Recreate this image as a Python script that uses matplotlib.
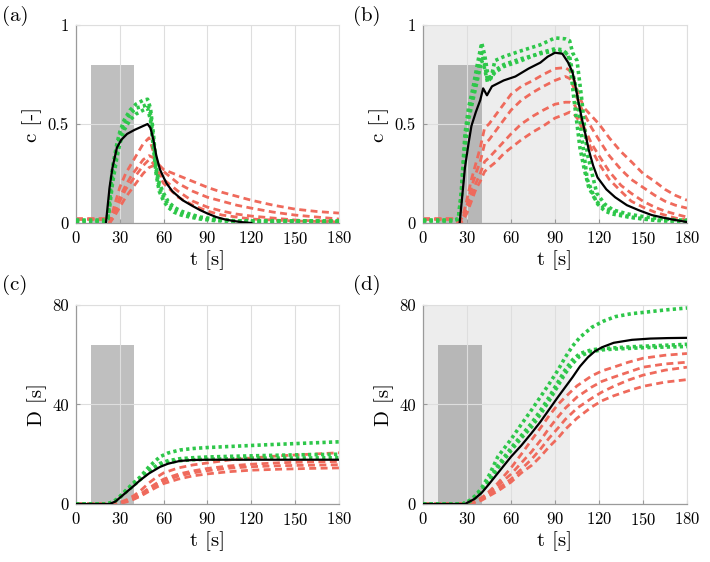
"""Four-panel breakthrough plot: concentration c(t) and dose D(t) for a short and a long release."""

import matplotlib

matplotlib.use("Agg")
import matplotlib.pyplot as plt

plt.rcParams["font.family"] = "serif"
plt.rcParams["font.serif"] = ["cmr10", "DejaVu Serif"]
plt.rcParams["mathtext.fontset"] = "cm"
plt.rcParams["axes.formatter.use_mathtext"] = True

GREEN = "#2ec74a"
RED = "#ef6a5c"
AXC = "#9a9a9a"
GRIDC = "#dedede"

# ---------------- (a) concentration, short release ----------------
ta_black = [20.5, 23, 25, 28, 31, 35, 40, 46, 49, 51, 53, 55, 57.5, 60, 62, 66, 73, 80, 85, 90,
            96, 102, 108, 114, 120]
ca_black = [0, 0.18, 0.28, 0.38, 0.42, 0.45, 0.47, 0.49, 0.50, 0.48, 0.42, 0.34, 0.27, 0.23, 0.20,
            0.16, 0.115, 0.085, 0.065, 0.048, 0.03, 0.018, 0.01, 0.004, 0]

ta_green = [0, 5, 10, 15, 20, 22, 25, 28, 30, 33, 37, 41, 46, 49, 51, 53, 55, 57, 60, 63, 67, 72,
            78, 85, 95, 108, 120, 135, 150, 165, 180]
ca_green1 = [0.015, 0.015, 0.015, 0.015, 0.015, 0.04, 0.28, 0.40, 0.46, 0.52, 0.57, 0.60, 0.62,
             0.625, 0.58, 0.45, 0.28, 0.20, 0.15, 0.11, 0.08, 0.06, 0.045, 0.03, 0.02, 0.012, 0.01,
             0.01, 0.01, 0.01, 0.01]
ca_green2 = [0.01, 0.01, 0.01, 0.01, 0.01, 0.03, 0.24, 0.37, 0.44, 0.50, 0.55, 0.58, 0.59, 0.60,
             0.55, 0.42, 0.26, 0.18, 0.13, 0.095, 0.07, 0.05, 0.038, 0.025, 0.015, 0.01, 0.01, 0.01,
             0.01, 0.01, 0.01]
ca_green3 = [0.008, 0.008, 0.008, 0.008, 0.008, 0.02, 0.20, 0.33, 0.40, 0.47, 0.52, 0.55, 0.57,
             0.58, 0.52, 0.38, 0.24, 0.16, 0.11, 0.08, 0.055, 0.04, 0.03, 0.02, 0.012, 0.008, 0.008,
             0.008, 0.008, 0.008, 0.008]

ta_red = [0, 5, 10, 15, 20, 23, 26, 30, 34, 38, 42, 46, 50, 53, 56, 60, 70, 80, 90, 100, 110, 120,
          135, 150, 165, 180]
ca_red1 = [0.02, 0.02, 0.02, 0.02, 0.02, 0.0, 0.08, 0.18, 0.25, 0.30, 0.35, 0.40, 0.43, 0.36, 0.30,
           0.27, 0.24, 0.21, 0.18, 0.155, 0.135, 0.115, 0.09, 0.07, 0.058, 0.05]
ca_red2 = [0.02, 0.02, 0.02, 0.02, 0.02, 0.0, 0.05, 0.13, 0.19, 0.24, 0.28, 0.32, 0.34, 0.33, 0.30,
           0.26, 0.20, 0.16, 0.13, 0.11, 0.09, 0.075, 0.055, 0.04, 0.03, 0.02]
ca_red3 = [0.02, 0.02, 0.02, 0.02, 0.02, 0.0, 0.04, 0.11, 0.17, 0.21, 0.25, 0.29, 0.32, 0.30, 0.26,
           0.22, 0.16, 0.11, 0.08, 0.06, 0.045, 0.035, 0.025, 0.015, 0.01, 0.01]
ca_red4 = [0.02, 0.02, 0.02, 0.02, 0.02, 0.0, 0.03, 0.08, 0.13, 0.17, 0.21, 0.25, 0.28, 0.29, 0.25,
           0.20, 0.13, 0.09, 0.06, 0.04, 0.03, 0.02, 0.015, 0.01, 0.008, 0.005]

# ---------------- (b) concentration, long release ----------------
tb_black = [25, 28.6, 31, 33, 36, 39, 41, 43.6, 47, 55, 63, 72, 80, 85, 90, 95, 99, 102, 104, 106,
            108.5, 111, 113, 116, 119, 125, 131, 139, 147, 156, 165, 172, 180]
cb_black = [0, 0.28, 0.40, 0.49, 0.56, 0.62, 0.68, 0.645, 0.69, 0.72, 0.74, 0.78, 0.81, 0.84, 0.86,
            0.855, 0.81, 0.76, 0.69, 0.61, 0.52, 0.44, 0.37, 0.29, 0.23, 0.17, 0.13, 0.09, 0.065,
            0.04, 0.025, 0.015, 0.005]

tb_green13 = [0, 5, 10, 15, 20, 24, 26, 28.6, 31, 34, 37, 40, 42, 44, 46, 49, 55, 67, 80, 90, 97,
              100, 102, 105, 108, 112, 118.5, 124, 129.5, 140, 152, 165, 175, 180]
cb_green1 = [0.015, 0.015, 0.015, 0.015, 0.015, 0.02, 0.15, 0.45, 0.58, 0.68, 0.80, 0.91, 0.85,
             0.76, 0.72, 0.82, 0.84, 0.87, 0.90, 0.935, 0.93, 0.92, 0.86, 0.82, 0.64, 0.35, 0.15,
             0.095, 0.066, 0.045, 0.03, 0.02, 0.015, 0.015]
cb_green3 = [0.01, 0.01, 0.01, 0.01, 0.01, 0.02, 0.13, 0.40, 0.55, 0.64, 0.75, 0.86, 0.80, 0.72,
             0.74, 0.77, 0.80, 0.83, 0.855, 0.87, 0.86, 0.84, 0.76, 0.66, 0.45, 0.22, 0.10, 0.06,
             0.045, 0.03, 0.02, 0.012, 0.01, 0.01]
tb_green2 = [0, 5, 10, 15, 20, 24, 26, 28.6, 31, 34, 37, 40, 42, 44, 46, 49, 55, 67, 80, 90, 95, 99,
             101, 103, 105, 107, 110, 113, 118, 123, 132, 141, 150, 160, 170, 180]
cb_green2 = [0.012, 0.012, 0.012, 0.012, 0.012, 0.02, 0.12, 0.38, 0.52, 0.62, 0.72, 0.82, 0.78,
             0.71, 0.73, 0.76, 0.79, 0.82, 0.86, 0.88, 0.875, 0.85, 0.75, 0.62, 0.50, 0.38, 0.27,
             0.18, 0.11, 0.08, 0.05, 0.03, 0.02, 0.012, 0.01, 0.01]

tb_red = [0, 5, 10, 15, 20, 25, 27, 30, 33, 36, 39, 42, 45, 50, 55, 60, 67, 75, 82, 90, 97, 100,
          103, 106, 110, 115, 120, 127, 135, 142, 150, 158, 165, 172, 180]
cb_red1 = [0.02, 0.02, 0.02, 0.02, 0.02, 0.01, 0.03, 0.12, 0.22, 0.30, 0.38, 0.48, 0.50, 0.55,
           0.60, 0.65, 0.69, 0.72, 0.75, 0.78, 0.785, 0.77, 0.72, 0.65, 0.58, 0.54, 0.50, 0.43,
           0.36, 0.31, 0.25, 0.21, 0.17, 0.14, 0.115]
cb_red2 = [0.02, 0.02, 0.02, 0.02, 0.02, 0.0, 0.02, 0.09, 0.18, 0.25, 0.31, 0.40, 0.42, 0.47, 0.52,
           0.57, 0.62, 0.66, 0.69, 0.72, 0.74, 0.73, 0.68, 0.61, 0.55, 0.48, 0.42, 0.34, 0.27, 0.22,
           0.18, 0.14, 0.11, 0.09, 0.075]
cb_red3 = [0.02, 0.02, 0.02, 0.02, 0.02, 0.0, 0.01, 0.06, 0.14, 0.20, 0.25, 0.31, 0.33, 0.37, 0.41,
           0.45, 0.50, 0.54, 0.57, 0.60, 0.61, 0.61, 0.60, 0.56, 0.48, 0.40, 0.34, 0.26, 0.19, 0.15,
           0.11, 0.08, 0.06, 0.045, 0.03]
cb_red4 = [0.02, 0.02, 0.02, 0.02, 0.02, 0.0, 0.01, 0.05, 0.11, 0.17, 0.21, 0.26, 0.28, 0.31, 0.35,
           0.38, 0.42, 0.46, 0.49, 0.53, 0.55, 0.56, 0.55, 0.52, 0.45, 0.37, 0.30, 0.22, 0.16, 0.11,
           0.08, 0.055, 0.04, 0.025, 0.015]

# ---------------- (c) dose, short release ----------------
tc_black = [0, 23, 27, 30, 35, 40, 44, 50, 57.5, 63, 71, 80, 90, 120, 150, 180]
Dc_black = [0, 0, 1.0, 2.5, 5.0, 7.5, 9.6, 12.3, 14.9, 16.2, 17.3, 17.7, 17.8, 17.8, 17.8, 17.8]

tc_green = [0, 20, 23, 27, 30, 35, 40, 44, 50, 57.5, 63, 71, 80, 90, 108, 130, 155, 180]
Dc_green1 = [0, 0, 0.3, 1.5, 3.0, 6.0, 8.8, 10.9, 15.0, 19.0, 20.5, 21.7, 22.3, 22.7, 23.2, 23.8,
             24.4, 25.0]
Dc_green2 = [0, 0, 0.3, 1.4, 2.8, 5.6, 8.2, 10.2, 13.6, 16.3, 17.4, 18.2, 18.6, 18.9, 19.2, 19.5,
             19.8, 20.0]
Dc_green3 = [0, 0, 0.3, 1.3, 2.6, 5.2, 7.8, 9.8, 13.0, 15.6, 16.7, 17.4, 17.8, 18.0, 18.2, 18.4,
             18.5, 18.6]

tc_red = [0, 20, 25, 30, 35, 40, 45, 50, 55, 60, 70, 80, 90, 105, 120, 140, 160, 180]
Dc_red1 = [0, 0, 0, 0.6, 1.8, 3.5, 5.8, 8.5, 10.7, 12.5, 14.5, 15.7, 16.5, 17.7, 18.5, 19.4, 20.0,
           20.6]
Dc_red2 = [0, 0, 0, 0.4, 1.3, 2.6, 4.3, 6.4, 8.3, 10.0, 12.0, 13.3, 14.3, 15.3, 16.0, 16.6, 16.9,
           17.1]
Dc_red3 = [0, 0, 0, 0.3, 1.1, 2.3, 3.9, 5.8, 7.6, 9.2, 11.2, 12.5, 13.4, 14.4, 15.0, 15.4, 15.6,
           15.8]
Dc_red4 = [0, 0, 0, 0.2, 0.9, 2.0, 3.4, 5.1, 6.7, 8.2, 10.0, 11.3, 12.1, 13.0, 13.6, 14.0, 14.3,
           14.5]

# ---------------- (d) dose, long release ----------------
td_black = [0, 28.6, 35, 40, 45, 51, 60, 67, 74, 80, 86, 92, 97, 102, 107, 112.5, 117, 122, 130,
            142.5, 155, 167, 180]
Dd_black = [0, 0, 2, 4.5, 8, 12.4, 19, 23.5, 28.5, 33, 38, 43, 47, 51, 55.3, 59, 61.3, 63, 64.8,
            66, 66.5, 66.7, 66.8]

td_green = [0, 27, 32, 36, 40, 45, 51, 60, 67, 74, 80, 86, 92, 97, 102, 107, 115, 123, 131, 142,
            153, 165, 180]
Dd_green1 = [0, 0, 1.5, 3.5, 6.5, 11.5, 19, 26, 32, 37.8, 43, 48.3, 53.8, 59, 63.5, 67, 71, 73.5,
             75.3, 76.5, 77.2, 78, 78.8]
Dd_green2 = [0, 0, 1.2, 3.0, 5.5, 9.5, 15.5, 22.5, 27.5, 32.5, 37.5, 43, 49, 54, 58, 60.5, 62,
             62.5, 62.8, 63.2, 63.5, 63.8, 64.2]
Dd_green3 = [0, 0, 1.0, 2.7, 5.0, 9.0, 14.5, 21.5, 26.5, 31.0, 36, 41.5, 47.5, 52.5, 56.5, 59.5,
             61.3, 62, 62.3, 62.6, 62.9, 63.1, 63.3]

td_red = [0, 25, 30, 35, 40, 45, 51, 60, 67, 74, 80, 86, 92, 97, 105, 115, 122, 130, 140, 150, 165,
          180]
Dd_red1 = [0, 0, 0, 1, 2.5, 5, 8.4, 14.5, 20, 25.7, 30.5, 35.5, 40, 43, 47.5, 51.5, 53.5, 55, 57,
           58.6, 59.8, 60.5]
Dd_red2 = [0, 0, 0, 0.8, 2.2, 4.5, 7.4, 12, 16.5, 21, 25.5, 30.5, 35, 38.5, 43, 47, 49.3, 51, 53,
           55, 56.3, 57]
Dd_red3 = [0, 0, 0, 0.6, 1.8, 3.8, 6.2, 10, 14, 18, 22, 26.5, 30.5, 34, 38.5, 42.5, 45, 47.3, 49.8,
           51.8, 53.8, 55]
Dd_red4 = [0, 0, 0, 0.5, 1.5, 3.2, 5.2, 8.8, 12.5, 15.5, 19, 23, 26.5, 30, 34.5, 39, 41.5, 43.5,
           45.5, 47.3, 49, 50]

RELEASE = (10, 40)     # dark bar: release window
EXPOSURE_B = 100       # light band in the long-release panels

xticks = [0, 30, 60, 90, 120, 150, 180]


def style(ax, ylim, yticks, yticklabels, ylabel):
    ax.set_xlim(0, 180)
    ax.set_ylim(*ylim)
    ax.set_xticks(xticks)
    ax.set_yticks(yticks)
    ax.set_yticklabels(yticklabels)
    ax.set_axisbelow(True)
    ax.grid(True, color=GRIDC, lw=0.8)
    for side in ("top", "right"):
        ax.spines[side].set_color(GRIDC)
    for side in ("left", "bottom"):
        ax.spines[side].set_color(AXC)
        ax.spines[side].set_linewidth(0.9)
    ax.tick_params(direction="in", length=3, color=AXC, labelsize=12, pad=5)
    ax.set_xlabel("t [s]", fontsize=15, labelpad=2)
    ax.set_ylabel(ylabel, fontsize=15, labelpad=4)


def curves(ax, black, greens, reds):
    for t, v in reds:
        ax.plot(t, v, color=RED, lw=2.0, ls=(0, (2.5, 1.6)), zorder=2)
    for t, v in greens:
        ax.plot(t, v, color=GREEN, lw=2.6, ls=(0, (0.9, 0.9)), zorder=3)
    ax.plot(black[0], black[1], color="black", lw=1.6, zorder=4)


fig = plt.figure(figsize=(7.1, 5.62), dpi=100)
pos = {
    "a": [0.107, 0.6032, 0.3704, 0.3523],
    "b": [0.5958, 0.6032, 0.3718, 0.3523],
    "c": [0.107, 0.1032, 0.3704, 0.3541],
    "d": [0.5958, 0.1032, 0.3718, 0.3541],
}
axes = {k: fig.add_axes(p) for k, p in pos.items()}

# background patches
for k, top in (("a", 0.8), ("b", 0.8), ("c", 64), ("d", 64)):
    ax = axes[k]
    if k in ("b", "d"):
        ax.axvspan(0, EXPOSURE_B, color="#ededed", lw=0, zorder=0.1)
    ax.fill_between(list(RELEASE), 0, top, color="#8c8c8c", alpha=0.55, lw=0, zorder=0.2)

curves(axes["a"], (ta_black, ca_black),
       [(ta_green, ca_green1), (ta_green, ca_green2), (ta_green, ca_green3)],
       [(ta_red, ca_red1), (ta_red, ca_red2), (ta_red, ca_red3), (ta_red, ca_red4)])
curves(axes["b"], (tb_black, cb_black),
       [(tb_green13, cb_green1), (tb_green2, cb_green2), (tb_green13, cb_green3)],
       [(tb_red, cb_red1), (tb_red, cb_red2), (tb_red, cb_red3), (tb_red, cb_red4)])
curves(axes["c"], (tc_black, Dc_black),
       [(tc_green, Dc_green1), (tc_green, Dc_green2), (tc_green, Dc_green3)],
       [(tc_red, Dc_red1), (tc_red, Dc_red2), (tc_red, Dc_red3), (tc_red, Dc_red4)])
curves(axes["d"], (td_black, Dd_black),
       [(td_green, Dd_green1), (td_green, Dd_green2), (td_green, Dd_green3)],
       [(td_red, Dd_red1), (td_red, Dd_red2), (td_red, Dd_red3), (td_red, Dd_red4)])

for k in ("a", "b"):
    style(axes[k], (0, 1), [0, 0.5, 1], ["0", "0.5", "1"], "c [-]")
for k in ("c", "d"):
    style(axes[k], (0, 80), [0, 40, 80], ["0", "40", "80"], "D [s]")

for label, x, y in (("(a)", 0.003, 0.972), ("(b)", 0.497, 0.972),
                    ("(c)", 0.003, 0.493), ("(d)", 0.497, 0.493)):
    fig.text(x, y, label, fontsize=15, va="center", ha="left")

fig.savefig("out.png", dpi=100)
